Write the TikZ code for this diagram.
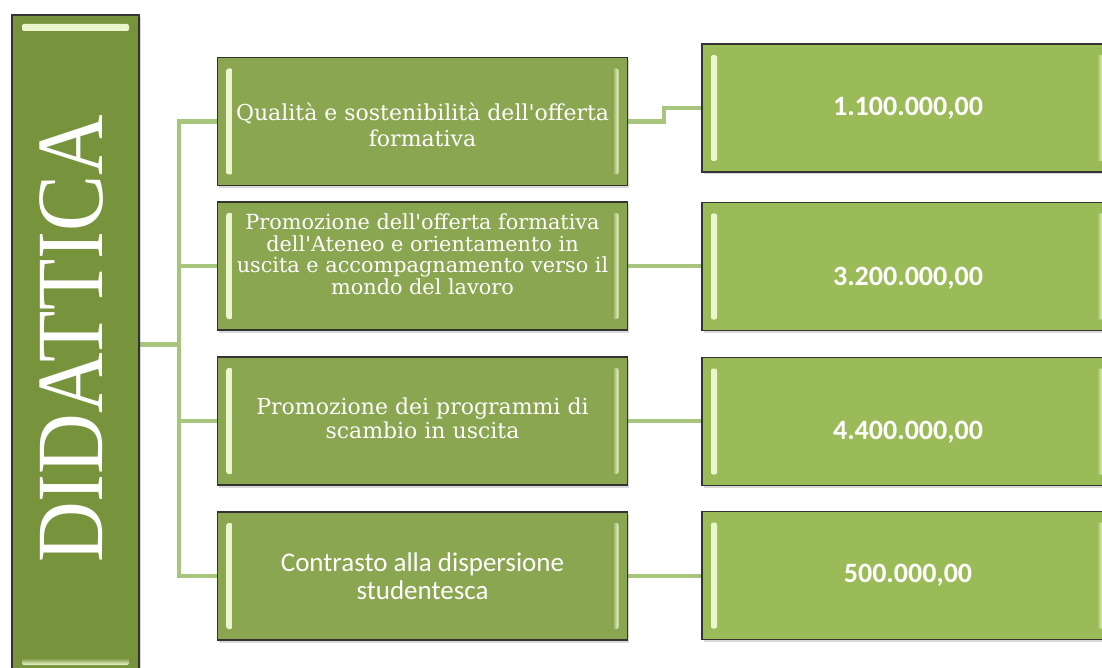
\documentclass[tikz,border=0pt]{standalone}
\usepackage{fontspec}
\setmainfont{DejaVu Serif}
\newfontfamily\titlefont{Liberation Serif}
\newfontfamily\numfont{Carlito}
\usetikzlibrary{shadows,backgrounds}

\definecolor{rootgreen}{HTML}{77933C}
\definecolor{itemgreen}{HTML}{8AA651}
\definecolor{valuegreen}{HTML}{9BBB59}
\definecolor{linkgreen}{HTML}{A8C57D}
\definecolor{bevelhi}{HTML}{EEF8D0}

\newcommand{\tightlines}{\lineskiplimit-30pt\relax}
\newcommand{\apo}{\textquotesingle}

\tikzset{
  greenbox/.style={draw=black!80, line width=1.4pt, inner sep=0pt,
    drop shadow={opacity=0.3, shadow xshift=1.5pt, shadow yshift=-2.5pt}},
  sidebevel/.style={path picture={
    \shade[left color=bevelhi, right color=#1, rounded corners=2pt]
      ([xshift=9pt,yshift=-11pt]path picture bounding box.north west) rectangle
      ([xshift=15pt,yshift=11pt]path picture bounding box.south west);
    \shade[left color=#1, right color=bevelhi, rounded corners=2pt]
      ([xshift=-15pt,yshift=-11pt]path picture bounding box.north east) rectangle
      ([xshift=-9pt,yshift=11pt]path picture bounding box.south east);
  }},
  rootbox/.style={greenbox, fill=rootgreen, minimum width=127pt, minimum height=659pt,
    path picture={
    \shade[top color=bevelhi, bottom color=rootgreen, rounded corners=2pt]
      ([xshift=10pt,yshift=-9pt]path picture bounding box.north west) rectangle
      ([xshift=-10pt,yshift=-16pt]path picture bounding box.north east);
    \shade[top color=rootgreen, bottom color=bevelhi, rounded corners=2pt]
      ([xshift=10pt,yshift=16pt]path picture bounding box.south west) rectangle
      ([xshift=-10pt,yshift=9pt]path picture bounding box.south east);
  }},
  itembox/.style={greenbox, fill=itemgreen, sidebevel=itemgreen,
    minimum width=410pt, minimum height=128pt},
  valuebox/.style={greenbox, fill=valuegreen, sidebevel=valuegreen,
    minimum width=410pt, minimum height=128pt},
  itemtext/.style={text=white, align=center, inner sep=0pt},
  valuetext/.style={text=white, inner sep=0pt, font=\numfont\bfseries\fontsize{28}{32}\selectfont},
  link/.style={draw=linkgreen, line width=4.5pt}
}

\begin{document}
\begin{tikzpicture}[x=1pt, y=-1pt]
\useasboundingbox (0,0) rectangle (1102,668);
\clip (0,0) rectangle (1102,668);

% Root box
\node[rootbox] (did) at (75.5,344.5) {};
\node[text=white, rotate=90, inner sep=0pt, font=\titlefont\fontsize{84}{84}\selectfont] (didlabel) at (71.5,339) {\scalebox{1}[1.13]{DIDATTICA}};

% Objectives
\node[itembox] (q1) at (422.5,121.5) {};
\node[itembox] (q2) at (422.5,266) {};
\node[itembox] (q3) at (422.5,421) {};
\node[itembox] (q4) at (422.5,576) {};

\node[itemtext, font=\fontsize{22}{26}\selectfont] (q1text) at (422.5,125) {Qualità e sostenibilità dell\apo offerta\\formativa};
\node[itemtext, font={\fontsize{20.8}{21.5}\selectfont\tightlines}] (q2text) at (422.5,254) {Promozione dell\apo offerta formativa\\dell\apo Ateneo  e orientamento  in\\uscita e accompagnamento  verso il\\mondo del lavoro};
\node[itemtext, font=\fontsize{22}{24}\selectfont] (q3text) at (422.5,418.5) {Promozione  dei programmi  di\\scambio in uscita};
\node[itemtext, font=\numfont\fontsize{27}{28}\selectfont] (q4text) at (422.5,576) {Contrasto  alla dispersione\\studentesca};

% Amounts
\node[valuebox] (v1) at (907,108) {};
\node[valuebox] (v2) at (907,266.5) {};
\node[valuebox] (v3) at (907,421.5) {};
\node[valuebox] (v4) at (907,575.5) {};

\node[valuetext] (v1text) at (908,108) {1.100.000,00};
\node[valuetext] (v2text) at (908,278) {3.200.000,00};
\node[valuetext] (v3text) at (908,432) {4.400.000,00};
\node[valuetext] (v4text) at (908,575) {500.000,00};

% Connectors
\begin{scope}[on background layer]
\coordinate (trunk) at (179,344.5);
\draw[link] (did.east) -- (trunk);
\draw[link] (q1.west) -| (trunk) |- (q4.west);
\draw[link] (trunk |- q2.west) -- (q2.west);
\draw[link] (trunk |- q3.west) -- (q3.west);
\draw[link] (q1.east) -- ++(36,0) |- (v1.west);
\foreach \i in {2,3,4}
  \draw[link] (q\i.east) -- (q\i.east -| v\i.west);
\end{scope}

\end{tikzpicture}
\end{document}
